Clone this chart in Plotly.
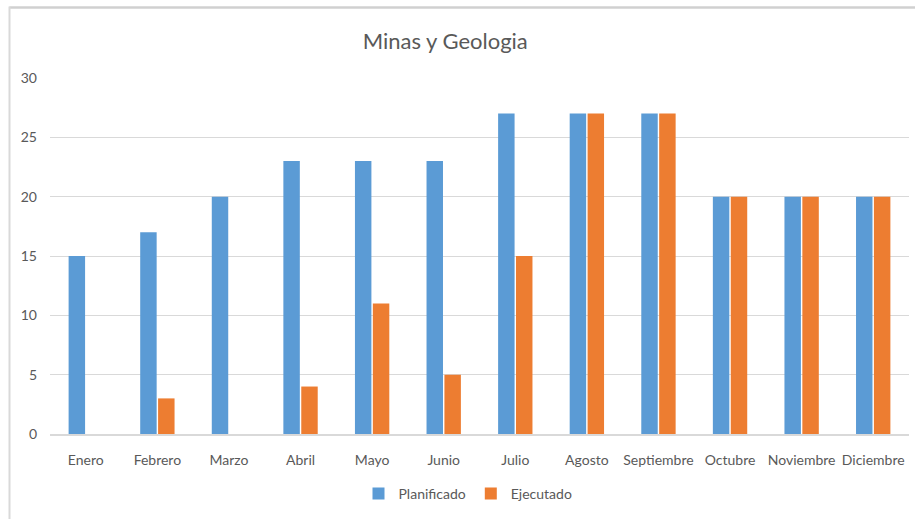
import plotly.graph_objects as go

meses = ["Enero", "Febrero", "Marzo", "Abril", "Mayo", "Junio", "Julio",
         "Agosto", "Septiembre", "Octubre", "Noviembre", "Diciembre"]
planificado = [15, 17, 20, 23, 23, 23, 27, 27, 27, 20, 20, 20]
ejecutado = [0, 3, 0, 4, 11, 5, 15, 27, 27, 20, 20, 20]
y_ticks = [0, 5, 10, 15, 20, 25, 30]

W, H = 915, 519
L, R, T, B = 50, 6, 78, 85
pw, ph = W - L - R, H - T - B

def px(x):
    return (x - L) / pw

def py(y):
    return (H - B - y) / ph

FONT = "Lato, sans-serif"
GRAY = "#595959"

fig = go.Figure()
fig.add_trace(go.Bar(name="Planificado", x=meses, y=planificado,
                     marker=dict(color="#5B9BD5", line=dict(width=0))))
fig.add_trace(go.Bar(name="Ejecutado", x=meses, y=ejecutado,
                     marker=dict(color="#ED7D31", line=dict(width=0))))

fig.update_layout(
    width=W, height=H,
    margin=dict(l=L, r=R, t=T, b=B, autoexpand=False),
    paper_bgcolor="white", plot_bgcolor="white",
    barmode="group", bargap=0.5, bargroupgap=0.08,
    font=dict(family=FONT, color=GRAY, size=14),
    title=dict(text="Minas y Geologia", x=px(468), xanchor="center",
               y=1 - 41 / H, yanchor="middle",
               font=dict(size=22, color=GRAY, family=FONT)),
    showlegend=True,
    legend=dict(orientation="h", x=px(468), xanchor="center",
                y=py(494), yanchor="middle",
                font=dict(size=14, color=GRAY, family=FONT),
                itemwidth=30, traceorder="normal"),
    xaxis=dict(showgrid=False, showline=True, linecolor="#D9D9D9", linewidth=1.5,
               ticks="", tickangle=0, automargin=False,
               tickfont=dict(size=14, color=GRAY), ticklabelstandoff=12),
    yaxis=dict(range=[0, 30], tickvals=y_ticks, showgrid=True, gridcolor="#D9D9D9",
               gridwidth=1, zeroline=False, showline=False, ticks="", automargin=False,
               tickfont=dict(size=14, color=GRAY), ticklabelstandoff=12),
    shapes=[
        dict(type="line", xref="paper", yref="paper",
             x0=px(9.5), x1=px(915), y0=py(7.5), y1=py(7.5),
             line=dict(color="#D0D0D0", width=2.5)),
        dict(type="line", xref="paper", yref="paper",
             x0=px(9.5), x1=px(9.5), y0=py(6.5), y1=py(519),
             line=dict(color="#D9D9D9", width=2)),
    ],
)

fig.write_html("out.html", config={"displayModeBar": False},
               post_script="document.body.style.margin='0';document.body.style.overflow='hidden';")
